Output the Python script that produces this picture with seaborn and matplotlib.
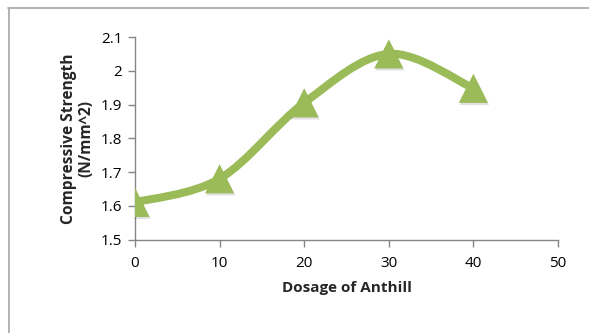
import numpy as np
import pandas as pd
import matplotlib
matplotlib.use("Agg")
import matplotlib.pyplot as plt
import seaborn as sns
from matplotlib.path import Path
from matplotlib.patches import PathPatch
from matplotlib.lines import Line2D
import matplotlib.patheffects as pe

dosage = [0, 10, 20, 30, 40]
strength = [1.61, 1.68, 1.905, 2.05, 1.948]
x_ticks = [0, 10, 20, 30, 40, 50]
y_ticks = [1.5, 1.6, 1.7, 1.8, 1.9, 2.0, 2.1]
y_tick_labels = ["1.5", "1.6", "1.7", "1.8", "1.9", "2", "2.1"]

sns.set_style("white")
plt.rcParams["font.family"] = ["Open Sans", "DejaVu Sans"]

W, H = 589, 333
fig = plt.figure(figsize=(W / 100, H / 100), dpi=100)
ax = fig.add_axes([135 / W, 1 - 239.5 / H, (558 - 135) / W, (239.5 - 37) / H])

GREEN = "#9BBB59"
GRAY = "#868686"

df = pd.DataFrame({"Dosage": dosage, "Strength": strength})

# smooth curve (Excel-style Catmull-Rom Bezier) built from the data points
pts = np.column_stack([df["Dosage"], df["Strength"]]).astype(float)
verts = [tuple(pts[0])]
codes = [Path.MOVETO]
n = len(pts)
for i in range(n - 1):
    p0 = pts[i - 1] if i > 0 else pts[i]
    p1 = pts[i]
    p2 = pts[i + 1]
    p3 = pts[i + 2] if i + 2 < n else pts[i + 1]
    c1 = p1 + (p2 - p0) / 6.0
    c2 = p2 - (p3 - p1) / 6.0
    verts += [tuple(c1), tuple(c2), tuple(p2)]
    codes += [Path.CURVE4] * 3
patch = PathPatch(Path(verts, codes), facecolor="none", edgecolor=GREEN,
                  lw=5.8, capstyle="round", joinstyle="round", zorder=2)
ax.add_patch(patch)

sns.scatterplot(data=df, x="Dosage", y="Strength", ax=ax, marker="^",
                s=21 ** 2, color=GREEN, edgecolor="none", zorder=3,
                legend=False)
for coll in ax.collections:
    coll.set_path_effects([pe.SimplePatchShadow(offset=(0.8, -1.5), shadow_rgbFace="#000000", alpha=0.12), pe.Normal()])

ax.set_xlim(0, 50)
ax.set_ylim(1.5, 2.1)
ax.set_xticks(x_ticks)
ax.set_xticklabels([str(t) for t in x_ticks])
ax.set_yticks(y_ticks)
ax.set_yticklabels(y_tick_labels)

for s in ["top", "right"]:
    ax.spines[s].set_visible(False)
for s in ["left", "bottom"]:
    ax.spines[s].set_color(GRAY)
    ax.spines[s].set_linewidth(1.0)

ax.tick_params(axis="both", which="major", direction="out", length=5,
               width=1.0, color=GRAY, labelsize=11, labelcolor="#000000",
               bottom=True, left=True)
ax.tick_params(axis="x", pad=7)
ax.tick_params(axis="y", pad=4)

ax.set_xlabel("Dosage of Anthill", fontsize=11, fontweight="bold", labelpad=7)
ax.set_ylabel("Compressive Strength\n(N/mm^2)", fontsize=11.2,
              fontweight="bold", labelpad=5, linespacing=1.05)

# chart-area border (top and left edges visible)
fig.add_artist(Line2D([8 / W, 1.0], [1 - 7.5 / H, 1 - 7.5 / H],
                      transform=fig.transFigure, color="#A6A6A6", lw=1.2))
fig.add_artist(Line2D([8.5 / W, 8.5 / W], [0, 1 - 7.5 / H],
                      transform=fig.transFigure, color="#A6A6A6", lw=1.2))

fig.savefig("out.png", dpi=100)
